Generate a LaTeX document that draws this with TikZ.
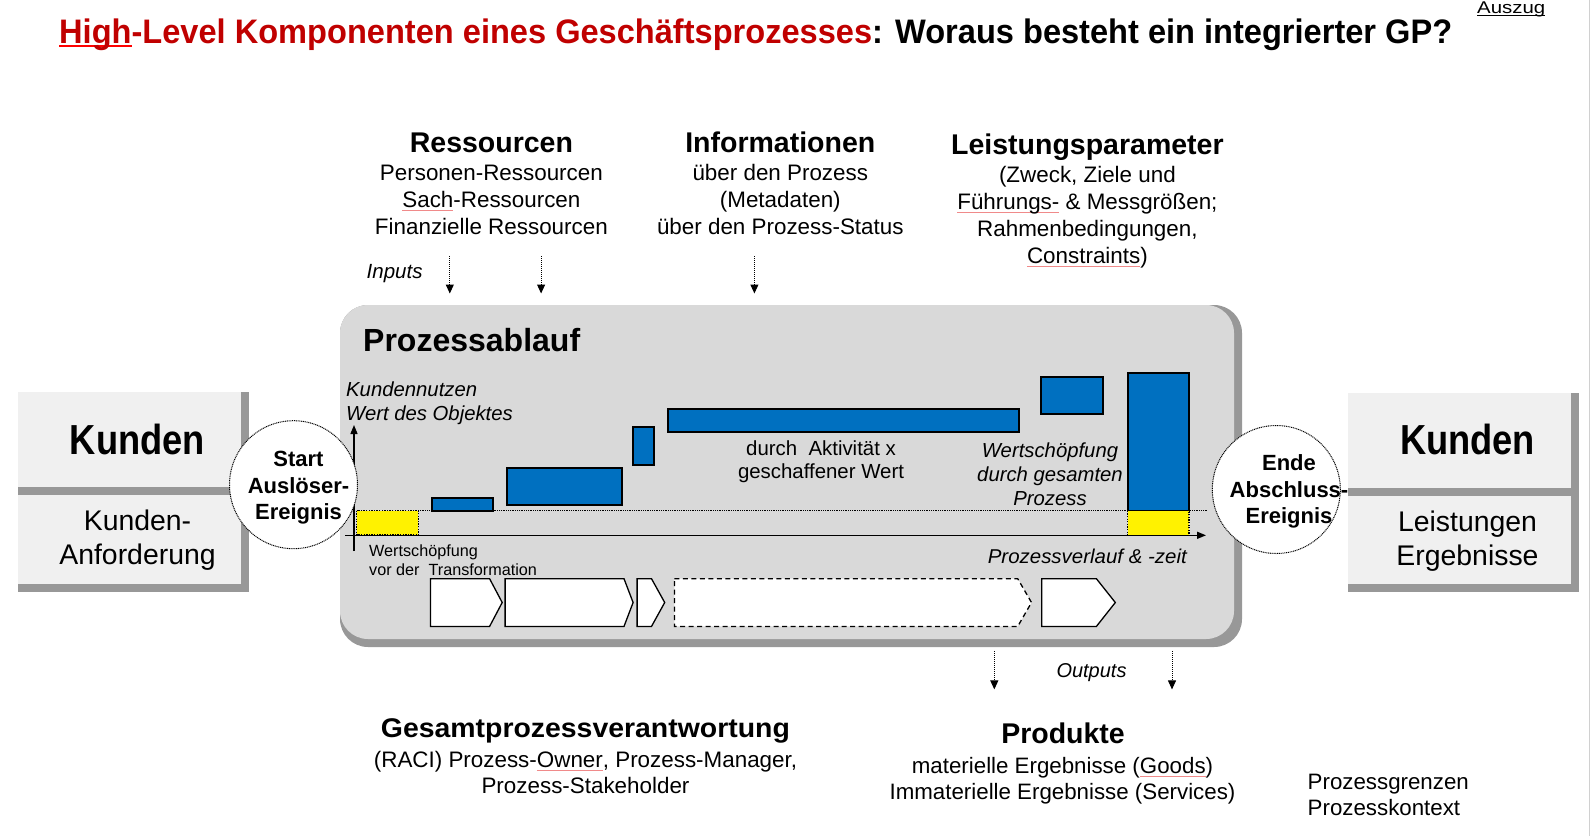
\documentclass[tikz,border=0pt]{standalone}
\usepackage{fontspec}
\setmainfont{Liberation Sans}
\usepackage{graphicx}
\usetikzlibrary{arrows.meta}
\definecolor{titlered}{HTML}{C00000}
\definecolor{barblue}{HTML}{0070C0}
\definecolor{panelgray}{HTML}{D9D9D9}
\definecolor{shadowgray}{HTML}{989898}
\definecolor{boxfill}{HTML}{F0F0F0}
\definecolor{squigred}{HTML}{F08A8A}
\definecolor{edgegray}{HTML}{D0D0D0}
\newcommand\setfs[1]{\fontsize{#1}{#1}\selectfont}
\newcommand\setfsl[2]{\fontsize{#1}{#2}\selectfont}
\newcommand\fitw[2]{\resizebox{#1}{\height}{#2}}
\newcommand\ulc[3]{\setbox0\hbox{#3}\rlap{\color{#1}\rule[#2]{\wd0}{0.06em}}\box0}
\newcommand\squig[1]{\ulc{squigred}{-0.2em}{#1}}
\tikzset{
  hd/.style={anchor=base, inner sep=0pt, font=\setfs{28.5}\bfseries},
  bd/.style={anchor=base, align=center, inner sep=0pt, font=\setfsl{22.4}{27}},
  inarr/.style={line width=1pt, dash pattern=on 1pt off 1pt, -{Triangle[width=8pt,length=9pt]}},
  axisarr/.style={line width=1.4pt, -{Triangle[width=7pt,length=9pt]}},
  bar/.style={fill=barblue, draw=black, line width=1.8pt},
  ybox/.style={fill=yellow, draw=black, line width=1.3pt, dash pattern=on 1.3pt off 1.3pt},
  chev/.style={fill=white, draw=black, line width=1.3pt, line join=miter},
  evcirc/.style={circle, draw=black, fill=white, line width=1pt, dash pattern=on 1pt off 0.8pt, minimum size=128pt, inner sep=0pt},
  evtxt/.style={anchor=base, align=center, inner sep=0pt, font=\setfsl{22}{26.5}\bfseries},
}
\begin{document}
\begin{tikzpicture}[x=1pt,y=-1pt]
\useasboundingbox (0,0) rectangle (1592,836);
\draw[edgegray, line width=1.5pt] (1589.5,0) -- (1589.5,836);

% title
\node[anchor=base west, inner sep=0pt, font=\setfs{34}\bfseries] (title) at (59,43)
  {\fitw{1393pt}{\textcolor{titlered}{\ulc{red}{-0.13em}{High}-Level Komponenten eines Geschäftsprozesses}: Woraus besteht ein integrierter GP?}};
\node[anchor=base west, inner sep=0pt, font=\setfs{17}] (auszug) at (1477,13) {\fitw{68pt}{\ulc{black}{-0.15em}{Auszug}}};

% top blocks (multi-line nodes: base = last line)
\node[hd] (res) at (491.4,152) {Ressourcen};
\node[hd] (inf) at (780.3,152) {Informationen};
\node[hd] (lei) at (1087.4,154.5) {Leistungsparameter};
\node[bd] (resb) at (491.4,234) {Personen-Ressourcen\\\squig{Sach}-Ressourcen\\Finanzielle Ressourcen};
\node[bd] (infb) at (780.3,234) {über den Prozess\\(Metadaten)\\über den Prozess-Status};
\node[bd] (leib) at (1087.4,263) {(Zweck, Ziele und\\\squig{Führungs-}\ \& Messgrößen;\\Rahmenbedingungen,\\\squig{Constraints})};
\node[anchor=base west, inner sep=0pt, font=\setfs{20.5}\itshape] (inputs) at (366.5,278) {Inputs};
\coordinate (ia1s) at (449.8,256); \coordinate (ia1e) at (449.8,293.5);
\coordinate (ia2s) at (541.1,256); \coordinate (ia2e) at (541.1,293.5);
\coordinate (ia3s) at (754.4,256); \coordinate (ia3e) at (754.4,293.5);
\draw[inarr] (ia1s) -- (ia1e);
\draw[inarr] (ia2s) -- (ia2e);
\draw[inarr] (ia3s) -- (ia3e);

% Kunden boxes
\fill[shadowgray] (18.3,392.3) rectangle (249.3,495);
\fill[boxfill] (18.3,392.3) rectangle (240.7,486.5);
\fill[shadowgray] (18.3,495) rectangle (249.3,592.3);
\fill[boxfill] (18.3,495) rectangle (240.7,584);
\fill[shadowgray] (1348.3,393.3) rectangle (1579.3,496);
\fill[boxfill] (1348.3,393.3) rectangle (1570.7,488.3);
\fill[shadowgray] (1348.3,496) rectangle (1579.3,591.7);
\fill[boxfill] (1348.3,496) rectangle (1570.7,584);
\node[anchor=base, inner sep=0pt, font=\setfs{42}\bfseries] (kundenl) at (137.5,454) {\fitw{135pt}{Kunden}};
\node[anchor=base, inner sep=0pt, font=\setfs{42}\bfseries] (kundenr) at (1467.5,454) {\fitw{135pt}{Kunden}};
\node[anchor=base, align=center, inner sep=0pt, font=\setfsl{28.4}{34}] (kanf) at (137.5,564) {Kunden-\\Anforderung};
\node[anchor=base, align=center, inner sep=0pt, font=\setfsl{28.4}{33.5}] (lerg) at (1467.5,565) {Leistungen\\Ergebnisse};

% process panel
\fill[shadowgray, rounded corners=28pt] (340,305) rectangle (1242,647);
\fill[panelgray, rounded corners=28pt] (340,305) rectangle (1234,639);
\node[anchor=base west, inner sep=0pt, font=\setfs{32}\bfseries] (pa) at (363,351.7) {Prozessablauf};
\node[anchor=base west, align=left, inner sep=0pt, font=\setfsl{20.3}{24}\itshape] (kn) at (346,420) {Kundennutzen\\Wert des Objektes};

\draw[densely dotted, line width=0.8pt] (418,510.7) -- (1207,510.7);
\draw[ybox] (356.7,510.7) rectangle (418.3,535);
\draw[bar] (431.7,497.7) rectangle (493.3,510.7);
\draw[bar] (506.7,467.7) rectangle (621.7,505);
\draw[bar] (633.3,427.3) rectangle (654,465);
\draw[bar] (668.3,409.3) rectangle (1019.3,432);
\draw[bar] (1040.7,376.7) rectangle (1103.3,414);
\draw[bar] (1127.7,373.3) rectangle (1189,510.7);
\draw[ybox] (1127.7,510.7) rectangle (1189,535.7);

\coordinate (yax0) at (354,551); \coordinate (yax1) at (354,425);
\coordinate (xax0) at (345,535.3); \coordinate (xax1) at (1206,535.3);
\draw[axisarr] (yax0) -- (yax1);
\draw[axisarr] (xax0) -- (xax1);

\node[anchor=base, align=center, inner sep=0pt, font=\setfsl{20.4}{23.4}] (dak) at (821,478.4) {durch\ \ Aktivität x\\geschaffener Wert};
\node[anchor=base, align=center, inner sep=0pt, font=\setfsl{20.3}{24}\itshape] (wdg) at (1050,505.5) {Wertschöpfung\\durch gesamten\\Prozess};
\node[anchor=base west, align=left, inner sep=0pt, font=\setfsl{16.2}{18.3}] (wvt) at (369,575) {Wertschöpfung\\vor der\ \ Transformation};
\node[anchor=base east, inner sep=0pt, font=\setfs{20}\itshape] (pv) at (1187,563) {\fitw{199pt}{Prozessverlauf \& -zeit}};

% chevrons
\draw[chev] (430.5,578.7) -- (489.6,578.7) -- (502.2,602.5) -- (489.6,626.4) -- (430.5,626.4) -- cycle;
\draw[chev] (505.1,578.7) -- (624,578.7) -- (633.1,602.5) -- (624,626.4) -- (505.1,626.4) -- cycle;
\draw[chev] (637.1,578.7) -- (651.5,578.7) -- (664.7,602.5) -- (651.5,626.4) -- (637.1,626.4) -- cycle;
\draw[chev, dash pattern=on 5pt off 3.5pt] (674.4,578.7) -- (1017.7,578.7) -- (1031.5,602.5) -- (1017.7,626.4) -- (674.4,626.4) -- cycle;
\draw[chev] (1041.8,578.7) -- (1096.4,578.7) -- (1115.3,602.5) -- (1096.4,626.4) -- (1041.8,626.4) -- cycle;

% events
\node[evcirc] (start) at (293.5,484.7) {};
\node[evtxt] (starttxt) at (298.5,519.5) {Start\\Auslöser-\\Ereignis};
\node[evcirc] (ende) at (1276.3,489.5) {};
\node[evtxt] (endetxt) at (1289,523.5) {Ende\\Abschluss-\\Ereignis};

% outputs
\coordinate (oa1s) at (994.3,651); \coordinate (oa1e) at (994.3,689.4);
\coordinate (oa2s) at (1172,651); \coordinate (oa2e) at (1172,689.4);
\draw[inarr] (oa1s) -- (oa1e);
\draw[inarr] (oa2s) -- (oa2e);
\node[anchor=base west, inner sep=0pt, font=\setfs{20}\itshape] (outputs) at (1056.3,677) {\fitw{70pt}{Outputs}};

% bottom blocks
\node[anchor=base, inner sep=0pt, font=\setfs{27}\bfseries] (gpv) at (585.4,737.5) {\fitw{409pt}{Gesamtprozessverantwortung}};
\node[anchor=base, align=center, inner sep=0pt, font=\setfsl{22.4}{26}] (raci) at (585.5,793) {(RACI) Prozess-\squig{Owner}, Prozess-Manager,\\Prozess-Stakeholder};
\node[anchor=base, inner sep=0pt, font=\setfs{28.5}\bfseries] (prod) at (1063,743.3) {Produkte};
\node[anchor=base, align=center, inner sep=0pt, font=\setfsl{22.3}{26.5}] (prodb) at (1062.5,799.5) {materielle Ergebnisse (\squig{Goods})\\Immaterielle Ergebnisse (Services)};
\node[anchor=base west, align=left, inner sep=0pt, font=\setfsl{22.3}{26.5}] (pg) at (1307.5,815.5) {Prozessgrenzen\\Prozesskontext};
\end{tikzpicture}
\end{document}
